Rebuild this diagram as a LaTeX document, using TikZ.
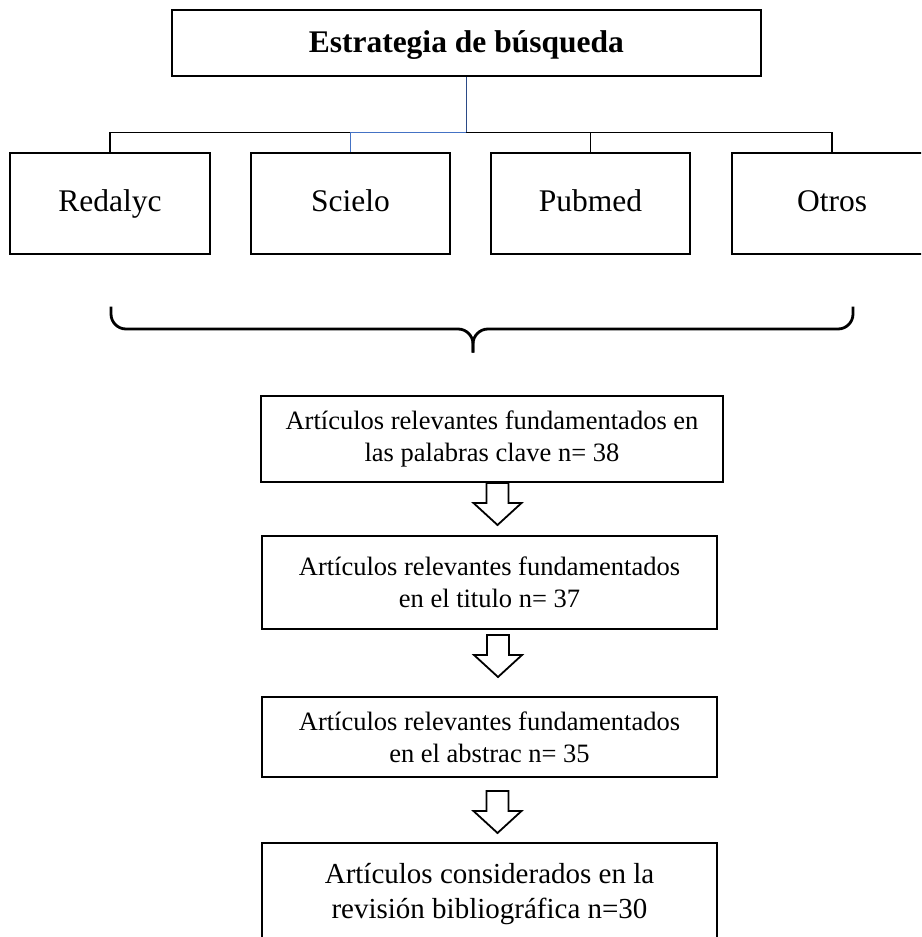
\documentclass[tikz,border=0pt]{standalone}
\usepackage{fontspec}
\setmainfont{Liberation Serif}
\definecolor{navy}{HTML}{2B4A86}
\definecolor{lblue}{HTML}{4472C4}
\tikzset{
  px/.style={x={(1pt,0)},y={(0,-1pt)}},
  bigbox/.style={draw=black,line width=2pt,inner sep=0pt,align=center},
  dbbox/.style={bigbox,minimum width=199pt,minimum height=101pt,text height=22pt,text depth=7pt,font=\fontsize{31.5}{38}\selectfont},
  stepbox/.style={bigbox,font=\fontsize{26.5}{32}\selectfont},
  conn/.style={line width=1.3pt,black},
  bluel/.style={line width=1.5pt,lblue},
  brace/.style={line width=2.8pt,rounded corners=15pt,line cap=butt},
  blockarrow/.pic={\draw[line width=1.8pt,line join=miter] (-11,0) -- (11,0) -- (11,20) -- (24,20) -- (0,42) -- (-24,20) -- (-11,20) -- cycle;}
}
\begin{document}
\begin{tikzpicture}[px]
\useasboundingbox (0,0) rectangle (921,937);
\clip (0,0) rectangle (921,937);
\fill[white] (0,0) rectangle (921,937);
% title
\node[bigbox,minimum width=589pt,minimum height=66pt,text height=23pt,text depth=5pt,font=\fontsize{31.5}{38}\selectfont\bfseries] (title) at (466.3,43.3) {Estrategia de búsqueda};
% databases
\node[dbbox,minimum width=200pt] (red) at (110,203.7) {Redalyc};
\node[dbbox] (sci) at (350.5,203.7) {Scielo};
\node[dbbox] (pub) at (590.5,203.7) {Pubmed};
\node[dbbox,draw=none,outer sep=0pt,minimum width=200pt] (otr) at (832,203.7) {Otros};
\draw[line width=2pt,line join=miter] (otr.north east) -- (otr.north west) -- (otr.south west) -- (otr.south east);
% connectors
\coordinate (j) at (466.3,132.3);
\draw[conn] (red.north) -- (j -| red.north) -- (j -| sci.north);
\draw[conn] (j) -- (j -| otr.north) -- (otr.north);
\draw[conn] (j -| pub.north) -- (pub.north);
\draw[bluel] (j) -- (j -| sci.north) -- (sci.north);
\draw[line width=1.5pt,navy] (title.south) -- (j);
% brace
\coordinate (bl) at (111,306.7);
\coordinate (br) at (853,306.7);
\coordinate (bt) at (473,352.7);
\draw[brace] (bl) -- (111,329) -- (473,329) -- (bt);
\draw[brace] (br) -- (853,329) -- (473,329) -- (bt);
% steps
\node[stepbox,minimum width=462pt,minimum height=86.3pt] (s1) at (492,438.9) {Artículos relevantes fundamentados en\\las palabras clave n= 38};
\node[stepbox,minimum width=455pt,minimum height=93.3pt] (s2) at (489.5,582.4) {Artículos relevantes fundamentados\\en el titulo n= 37};
\node[stepbox,minimum width=455pt,minimum height=79.5pt] (s3) at (489.5,736.8) {Artículos relevantes fundamentados\\en el abstrac n= 35};
\node[stepbox,minimum width=455pt,minimum height=102pt,font=\fontsize{29}{35}\selectfont] (s4) at (489.5,894) {Artículos considerados en la\\revisión bibliográfica n=30};
% arrows
\pic at (497.5,483) {blockarrow};
\pic at (498,635) {blockarrow};
\pic at (497.5,791) {blockarrow};
\end{tikzpicture}
\end{document}
